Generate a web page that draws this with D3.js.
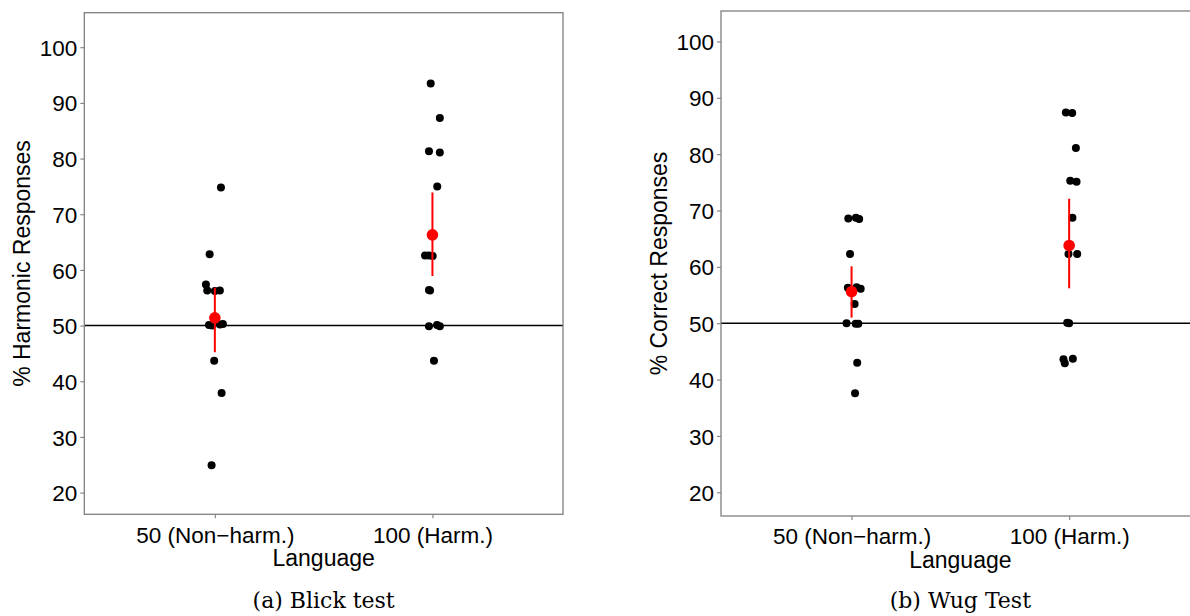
<!DOCTYPE html>
<html>
<head>
<meta charset="utf-8">
<script src="https://cdn.jsdelivr.net/npm/d3@7"></script>
<style>
  body { margin: 0; background: #fff; }
  svg { display: block; }
</style>
</head>
<body>
<svg width="1190" height="616"></svg>
<script>
// categories and tick labels
var categories = ["50 (Non\u2212harm.)", "100 (Harm.)"];
var yTicks = [20, 30, 40, 50, 60, 70, 80, 90, 100];
var chance = 50;

// (a) Blick test - individual participants, group index + jitter
var blickGroup  = [0, 0, 0, 0, 0, 0, 0, 0, 0, 0, 0, 0, 0,
                   1, 1, 1, 1, 1, 1, 1, 1, 1, 1, 1, 1, 1, 1];
var blickValue  = [74.8, 62.8, 57.4, 56.3, 56.3, 56.2, 50.1, 50.0, 50.2, 50.3, 43.7, 37.9, 24.9,
                   93.5, 87.3, 81.3, 81.1, 75.0, 62.6, 62.6, 62.5, 56.4, 56.3, 49.9, 50.1, 49.9, 43.7];
var blickJitter = [0.028, -0.024, -0.041, -0.035, 0.023, 0.0, -0.027, -0.013, 0.023, 0.037, -0.003, 0.031, -0.015,
                   -0.008, 0.034, -0.016, 0.034, 0.022, -0.034, -0.016, 0.001, -0.016, -0.011, -0.016, 0.021, 0.034, 0.007];
var blickMean = [51.4, 66.3];
var blickLow  = [45.2, 58.9];
var blickHigh = [56.8, 73.9];

// (b) Wug test
var wugGroup  = [0, 0, 0, 0, 0, 0, 0, 0, 0, 0, 0, 0, 0,
                 1, 1, 1, 1, 1, 1, 1, 1, 1, 1, 1, 1, 1];
var wugValue  = [68.6, 68.7, 68.5, 62.3, 56.3, 56.4, 56.1, 53.4, 50.0, 49.9, 49.9, 43.0, 37.6,
                 87.4, 87.3, 81.1, 75.3, 75.1, 68.7, 62.3, 62.3, 50.1, 50.0, 43.6, 42.9, 43.7];
var wugJitter = [-0.015, 0.02, 0.035, -0.007, -0.017, 0.023, 0.042, 0.014, -0.023, 0.019, 0.031, 0.026, 0.016,
                 -0.015, 0.014, 0.031, 0.005, 0.034, 0.015, -0.003, 0.037, -0.009, 0.0, -0.026, -0.02, 0.017];
var wugMean = [55.6, 63.8];
var wugLow  = [51.0, 56.2];
var wugHigh = [60.1, 72.1];

var svg = d3.select("svg");
var font = "'Liberation Sans', Arial, sans-serif";

function panel(opt) {
  var x = d3.scaleLinear().domain([0.4, 2.6]).range([opt.left, opt.right]);
  var y = d3.scaleLinear().domain(opt.yDomain).range([opt.bottom, opt.top]);
  var g = svg.append("g");

  // clip so marks stay inside the panel
  var id = "clip" + opt.name;
  g.append("clipPath").attr("id", id).append("rect")
    .attr("x", opt.left).attr("y", opt.top)
    .attr("width", opt.right - opt.left).attr("height", opt.bottom - opt.top);

  var yAxis = d3.axisLeft(y).tickValues(yTicks).tickSize(4).tickPadding(3);
  var ya = g.append("g").attr("transform", "translate(" + opt.left + ",0)").call(yAxis);
  var xAxis = d3.axisBottom(x).tickValues([1, 2]).tickFormat(function(d) { return categories[d - 1]; })
    .tickSize(4).tickPadding(4);
  var xa = g.append("g").attr("transform", "translate(0," + opt.bottom + ")").call(xAxis);
  [ya, xa].forEach(function(a) {
    a.select(".domain").remove();
    a.selectAll(".tick line").attr("stroke", "#7f7f7f").attr("stroke-width", 1.1);
    a.selectAll(".tick text").attr("fill", "#000").style("font-family", font).style("font-size", "22.5px");
  });
  xa.selectAll(".tick text").attr("dy", "0.9em");
  ya.selectAll(".tick text").attr("dy", "0.36em");

  var inner = g.append("g").attr("clip-path", "url(#" + id + ")");
  inner.append("line")
    .attr("x1", opt.left).attr("x2", opt.right)
    .attr("y1", y(chance)).attr("y2", y(chance))
    .attr("stroke", "#000").attr("stroke-width", 1.6);

  inner.selectAll("circle.pt")
    .data(opt.values)
    .enter().append("circle")
    .attr("class", "pt")
    .attr("cx", function(d, i) { return x(opt.group[i] + 1 + opt.jitter[i]); })
    .attr("cy", function(d) { return y(d); })
    .attr("r", 4)
    .attr("fill", "#000");

  inner.selectAll("line.err")
    .data(opt.mean)
    .enter().append("line")
    .attr("class", "err")
    .attr("x1", function(d, i) { return x(i + 1); })
    .attr("x2", function(d, i) { return x(i + 1); })
    .attr("y1", function(d, i) { return y(opt.low[i]); })
    .attr("y2", function(d, i) { return y(opt.high[i]); })
    .attr("stroke", "#ff0000").attr("stroke-width", 2);

  inner.selectAll("circle.mean")
    .data(opt.mean)
    .enter().append("circle")
    .attr("class", "mean")
    .attr("cx", function(d, i) { return x(i + 1); })
    .attr("cy", function(d) { return y(d); })
    .attr("r", 5.8)
    .attr("fill", "#ff0000");

  g.append("rect")
    .attr("x", opt.left).attr("y", opt.top)
    .attr("width", opt.right - opt.left).attr("height", opt.bottom - opt.top)
    .attr("fill", "none").attr("stroke", "#7f7f7f").attr("stroke-width", 1.3);

  var cx = (opt.left + opt.right) / 2;
  g.append("text")
    .attr("x", cx).attr("y", opt.bottom + 52)
    .attr("text-anchor", "middle")
    .style("font-family", font).style("font-size", "23px")
    .text("Language");

  g.append("text")
    .attr("transform", "translate(" + (opt.left - 54) + "," + ((opt.top + opt.bottom) / 2) + ") rotate(-90)")
    .attr("text-anchor", "middle")
    .style("font-family", font).style("font-size", "23px")
    .text(opt.yTitle);

  g.append("text")
    .attr("x", cx).attr("y", 608)
    .attr("text-anchor", "middle")
    .style("font-family", "'DejaVu Serif', serif").style("font-size", "22px")
    .text(opt.caption);
}

panel({
  name: "a", left: 84.3, right: 563, top: 12.7, bottom: 514.3, yDomain: [16.1, 106.2],
  group: blickGroup, values: blickValue, jitter: blickJitter,
  mean: blickMean, low: blickLow, high: blickHigh,
  yTitle: "% Harmonic Responses", caption: "(a) Blick test"
});

panel({
  name: "b", left: 721, right: 1199.7, top: 11, bottom: 516, yDomain: [15.8, 105.4],
  group: wugGroup, values: wugValue, jitter: wugJitter,
  mean: wugMean, low: wugLow, high: wugHigh,
  yTitle: "% Correct Responses", caption: "(b) Wug Test"
});
</script>
</body>
</html>
